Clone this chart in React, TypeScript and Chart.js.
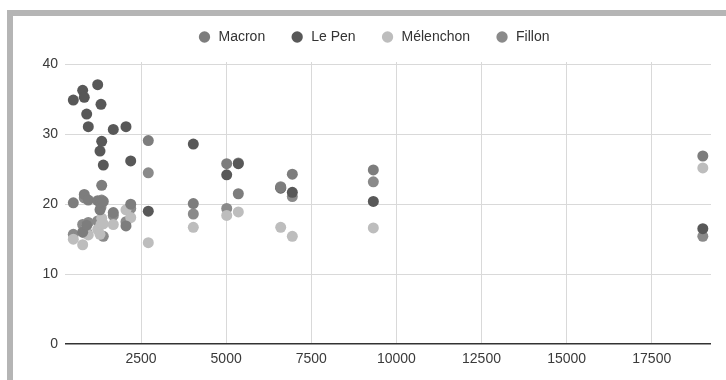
import React, { useEffect, useRef } from 'react';
import { Chart, registerables } from 'chart.js';

Chart.register(...registerables);

// City sizes (x) and first-round scores (%) per candidate
const cityX = [512, 787, 834, 905, 952, 1228, 1296, 1325, 1346, 1393, 1686, 2059, 2198, 2714, 4036, 5017, 5358, 6603, 6944, 9323, 19000];
const macron = [20.2, 16.0, 21.4, 17.0, 20.6, 20.5, 19.2, 20.3, 22.7, 20.4, 18.8, 16.9, 20.0, 29.1, 20.1, 25.8, 21.5, 22.4, 24.3, 24.9, 26.9];
const lePen = [34.9, 36.3, 35.3, 32.9, 31.1, 37.1, 27.6, 34.3, 29.0, 25.6, 30.7, 31.1, 26.2, 19.0, 28.6, 24.2, 25.8, 22.3, 21.7, 20.4, 16.5];
const melenchon = [15.0, 14.2, 15.9, 16.9, 15.6, 16.4, 15.7, 17.1, 18.0, 17.2, 17.1, 19.2, 18.1, 14.5, 16.7, 18.4, 18.9, 16.7, 15.4, 16.6, 25.2];
const fillon = [15.7, 17.1, 20.9, 16.0, 17.4, 17.6, 17.1, 19.6, 20.6, 15.4, 18.4, 17.5, 19.4, 24.5, 18.6, 19.4, 25.9, 22.5, 21.1, 23.2, 15.4];

const seriesNames = ['Macron', 'Le Pen', 'Mélenchon', 'Fillon'];
const seriesColors = ['#7d7d7d', '#585858', '#bdbdbd', '#8a8a8a'];
const xTicks = [2500, 5000, 7500, 10000, 12500, 15000, 17500];
const yTicks = [0, 10, 20, 30, 40];

const FONT = "Arial, 'Liberation Sans', sans-serif";

export default function App() {
  const ref = useRef<HTMLCanvasElement | null>(null);

  useEffect(() => {
    if (!ref.current) return;
    const all = [macron, lePen, melenchon, fillon];
    const datasets = all.map((vals, i) => ({
      label: seriesNames[i],
      data: vals.map((v, j) => ({ x: cityX[j], y: v })),
      backgroundColor: seriesColors[i],
      borderColor: seriesColors[i],
      borderWidth: 0,
      pointRadius: 5.5,
      pointHoverRadius: 5.5,
    }));

    const legendMargin = {
      id: 'legendMargin',
      beforeInit(chart: any) {
        const orig = chart.legend.fit;
        chart.legend.fit = function () {
          orig.bind(chart.legend)();
          this.height += 8;
        };
      },
    };

    const chart = new Chart(ref.current, {
      type: 'scatter',
      data: { datasets },
      plugins: [legendMargin],
      options: {
        animation: false,
        responsive: false,
        maintainAspectRatio: false,
        layout: { padding: { top: 5, right: 15, bottom: 0, left: 36 } },
        plugins: {
          legend: {
            display: true,
            position: 'top',
            labels: {
              usePointStyle: true,
              pointStyle: 'circle',
              boxWidth: 14,
              boxHeight: 8,
              padding: 25,
              color: '#333333',
              font: { family: FONT, size: 14 },
            },
          },
          tooltip: { enabled: false },
        },
        scales: {
          x: {
            type: 'linear',
            min: 268,
            max: 19240,
            afterBuildTicks: (axis: any) => {
              axis.ticks = xTicks.map((v) => ({ value: v }));
            },
            afterFit: (s: any) => {
              s.height = 36;
            },
            grid: { color: '#d9d9d9', lineWidth: 1, drawTicks: false },
            border: { display: false },
            ticks: {
              padding: 7,
              color: '#3a3a3a',
              font: { family: FONT, size: 14 },
              maxRotation: 0,
              callback: (v: any) => String(v),
            },
          },
          y: {
            type: 'linear',
            min: 0,
            max: 40.35,
            afterBuildTicks: (axis: any) => {
              axis.ticks = yTicks.map((v) => ({ value: v }));
            },
            afterFit: (s: any) => {
              s.width = 29;
            },
            grid: {
              color: (c: any) => (c.tick && c.tick.value === 0 ? '#333333' : '#d9d9d9'),
              lineWidth: (c: any) => (c.tick && c.tick.value === 0 ? 1.6 : 1),
              drawTicks: false,
            },
            border: { display: false },
            ticks: {
              padding: 7,
              color: '#3a3a3a',
              font: { family: FONT, size: 14 },
              callback: (v: any) => String(v),
            },
          },
        },
      },
    });
    return () => chart.destroy();
  }, []);

  return (
    <div style={{ position: 'fixed', left: 0, top: 0, width: 726, height: 380, background: '#fff', overflow: 'hidden' }}>
      <div
        style={{
          position: 'absolute',
          left: 7,
          top: 10,
          width: 726,
          height: 380,
          borderTop: '6px solid #b5b5b5',
          borderLeft: '6px solid #b5b5b5',
          boxSizing: 'border-box',
        }}
      />
      <canvas ref={ref} width={726} height={380} style={{ position: 'absolute', left: 0, top: 0, width: 726, height: 380 }} />
    </div>
  );
}
